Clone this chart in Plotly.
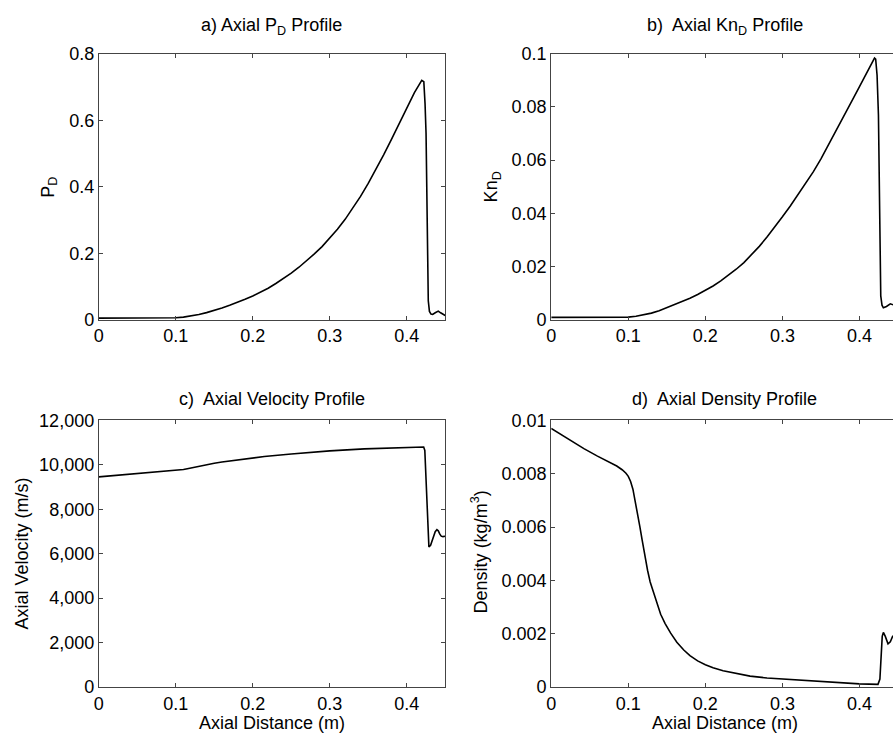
import plotly.graph_objects as go

# ---------------- data ----------------
pd_x = [0.0, 0.05, 0.1, 0.11, 0.12, 0.13, 0.14, 0.15, 0.16, 0.17, 0.18, 0.19, 0.2,
        0.21, 0.22, 0.23, 0.24, 0.25, 0.26, 0.27, 0.28, 0.29, 0.3, 0.31, 0.32, 0.33,
        0.34, 0.35, 0.36, 0.37, 0.38, 0.39, 0.4, 0.41, 0.4195, 0.4222, 0.4238,
        0.4251, 0.428, 0.4295, 0.4315, 0.4337, 0.437, 0.441, 0.444, 0.45]
pd_y = [0.005, 0.005, 0.006, 0.008, 0.0115, 0.016, 0.0215, 0.028, 0.0355, 0.0435,
        0.052, 0.0615, 0.0715, 0.0825, 0.095, 0.109, 0.124, 0.14, 0.158, 0.177, 0.198,
        0.22, 0.245, 0.272, 0.302, 0.335, 0.371, 0.41, 0.452, 0.496, 0.542, 0.589,
        0.637, 0.683, 0.72, 0.716, 0.65, 0.56, 0.057, 0.025, 0.017, 0.016, 0.021,
        0.026, 0.021, 0.013]

kn_x = [0.0, 0.05, 0.1, 0.11, 0.12, 0.13, 0.14, 0.15, 0.16, 0.17, 0.18, 0.19, 0.2,
        0.21, 0.22, 0.23, 0.24, 0.25, 0.26, 0.27, 0.28, 0.29, 0.3, 0.31, 0.32, 0.33,
        0.34, 0.35, 0.36, 0.37, 0.38, 0.39, 0.4, 0.41, 0.418, 0.4195, 0.421, 0.4228,
        0.4246, 0.4276, 0.4292, 0.431, 0.435, 0.44, 0.445, 0.45]
kn_y = [0.0009, 0.0009, 0.001, 0.0013, 0.0018, 0.0025, 0.0034, 0.0045, 0.0056,
        0.0068, 0.0081, 0.0095, 0.011, 0.0127, 0.0146, 0.0167, 0.019, 0.0215, 0.0244,
        0.0276, 0.0311, 0.0348, 0.0387, 0.0427, 0.0469, 0.0512, 0.0556, 0.0605,
        0.0658, 0.0712, 0.0767, 0.0822, 0.0877, 0.0932, 0.0978, 0.0984, 0.098, 0.092,
        0.077, 0.009, 0.0055, 0.0045, 0.005, 0.006, 0.0055, 0.005]

v_x = [0.0, 0.05, 0.1, 0.105, 0.11, 0.115, 0.12, 0.13, 0.14, 0.15, 0.16, 0.18, 0.2,
       0.215, 0.25, 0.275, 0.3, 0.345, 0.4, 0.42, 0.422, 0.4235, 0.4288, 0.431,
       0.434, 0.437, 0.4392, 0.441, 0.443, 0.4448, 0.447, 0.45]
v_y = [9460, 9600, 9745, 9765, 9790, 9825, 9865, 9945, 10015, 10075, 10125, 10225,
       10315, 10375, 10490, 10570, 10630, 10720, 10790, 10815, 10800, 10650, 6307,
       6380, 6700, 6990, 7083, 7030, 6880, 6790, 6770, 6790]

rho_x = [0.0, 0.02, 0.0424, 0.06, 0.075, 0.085, 0.092, 0.097, 0.1, 0.103, 0.106,
         0.109, 0.112, 0.115, 0.118, 0.122, 0.125, 0.1284, 0.133, 0.137, 0.142,
         0.1478, 0.155, 0.163, 0.172, 0.18, 0.19, 0.2, 0.21, 0.223, 0.24, 0.258,
         0.28, 0.3, 0.336, 0.37, 0.4, 0.424, 0.4265, 0.4295, 0.431, 0.4335, 0.437,
         0.44, 0.443, 0.447, 0.45]
rho_y = [0.0097, 0.00933, 0.00894, 0.00866, 0.00843, 0.00829, 0.00815, 0.00802,
         0.0079, 0.00771, 0.00742, 0.00698, 0.00652, 0.00602, 0.00551, 0.00484,
         0.00438, 0.00394, 0.0035, 0.00312, 0.00273, 0.00238, 0.00202, 0.00168,
         0.00139, 0.00118, 0.00098, 0.00084, 0.00072, 0.00061, 0.0005, 0.00041,
         0.00034, 0.0003, 0.00022, 0.00016, 0.00012, 0.0001, 0.0003, 0.0019,
         0.00205, 0.0019, 0.00162, 0.0017, 0.0019, 0.0019, 0.0018]

titles = ["a) Axial P<sub>D</sub> Profile", "b)\u00a0 Axial Kn<sub>D</sub> Profile",
          "c)\u00a0 Axial Velocity Profile", "d)\u00a0 Axial Density Profile"]
ylabels = ["P<sub>D</sub>", "Kn<sub>D</sub>", "Axial Velocity (m/s)",
           "Density (kg/m<sup>3</sup>)"]
xlabel = "Axial Distance (m)"

# ---------------- layout geometry ----------------
W, H = 893, 746
FONT = "Arial, Liberation Sans, sans-serif"
FS = 18

def px(x):
    return x / W

def py(y):
    return 1 - y / H

left_dom = [px(94.3), px(442.7)]
right_dom = [px(549.3), 1.0]
top_dom = [py(318.3), py(45)]
bot_dom = [py(695.7), py(421.7)]
right_max = (W - 549.3) / 775.0

fig = go.Figure()
series = [(pd_x, pd_y), (kn_x, kn_y), (v_x, v_y), (rho_x, rho_y)]
for i, (xs, ys) in enumerate(series):
    suf = "" if i == 0 else str(i + 1)
    fig.add_trace(go.Scatter(x=xs, y=ys, mode="lines",
                             line=dict(color="black", width=1.6),
                             xaxis="x" + suf, yaxis="y" + suf,
                             showlegend=False, hoverinfo="skip"))

axis_common = dict(showline=True, linecolor="#444", linewidth=1, ticks="inside",
                   ticklen=4, tickcolor="#444", showgrid=False, zeroline=False,
                   tickfont=dict(family=FONT, size=FS, color="black"))

yranges = [[0, 0.8], [0, 0.1], [0, 12000], [0, 0.01]]
ydtick = [0.2, 0.02, 2000, 0.002]
doms = [(left_dom, top_dom), (right_dom, top_dom), (left_dom, bot_dom), (right_dom, bot_dom)]
layout = {}
for i in range(4):
    suf = "" if i == 0 else str(i + 1)
    right = i in (1, 3)
    xd, yd = doms[i]
    layout["xaxis" + suf] = dict(axis_common, domain=xd,
                                 range=[0, right_max if right else 0.45],
                                 tickvals=[0, 0.1, 0.2, 0.3, 0.4],
                                 ticktext=["0", "0.1", "0.2", "0.3", "0.4"],
                                 mirror="ticks", anchor="y" + suf)
    ya = dict(axis_common, domain=yd, range=yranges[i], dtick=ydtick[i], tick0=0,
              mirror=(False if right else "ticks"), anchor="x" + suf)
    if i == 2:
        ya["tickformat"] = ",d"
    layout["yaxis" + suf] = ya

fig.update_layout(**layout)

ann = []
centers_x = [268.5, 723.7, 268.5, 723.7]
title_y = [17, 17, 400, 400]
for i in range(4):
    ann.append(dict(text=titles[i], x=px(centers_x[i]), y=py(title_y[i]),
                    xref="paper", yref="paper", showarrow=False,
                    xanchor="center", yanchor="middle",
                    font=dict(family=FONT, size=FS, color="black")))
ylab_x = [44, 490, 17, 477]
ylab_y = [182, 182, 558.5, 557]
for i in range(4):
    ann.append(dict(text=ylabels[i], x=px(ylab_x[i]), y=py(ylab_y[i]),
                    xref="paper", yref="paper", showarrow=False, textangle=-90,
                    xanchor="center", yanchor="middle",
                    font=dict(family=FONT, size=FS, color="black")))
for cx in [269, 724]:
    ann.append(dict(text=xlabel, x=px(cx), y=py(733), xref="paper", yref="paper",
                    showarrow=False, xanchor="center", yanchor="middle",
                    font=dict(family=FONT, size=FS, color="black")))

fig.update_layout(width=W, height=H, margin=dict(l=0, r=0, t=0, b=0),
                  paper_bgcolor="white", plot_bgcolor="white",
                  annotations=ann, font=dict(family=FONT, size=FS, color="black"))

fig.write_html("out.html")
